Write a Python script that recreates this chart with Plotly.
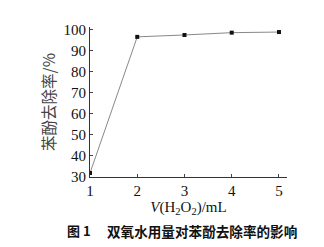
import plotly.graph_objects as go

volume_ml = [1, 2, 3, 4, 5]
removal_pct = [31.9, 96.7, 97.6, 98.7, 99.0]
y_ticks = [30, 40, 50, 60, 70, 80, 90, 100]
x_ticks = [1, 2, 3, 4, 5]
caption_label = "图 1"
caption_text = "双氧水用量对苯酚去除率的影响"

serif = "Liberation Serif, Times New Roman, serif"
cjk = "Noto Sans CJK SC, sans-serif"

fig = go.Figure()
fig.add_trace(go.Scatter(
    x=volume_ml, y=removal_pct, mode="lines+markers",
    line=dict(color="#888888", width=1),
    marker=dict(symbol="square", size=4, color="#111111"),
    showlegend=False,
))

fig.update_layout(
    width=324, height=247,
    margin=dict(l=90, r=37, t=27, b=70),
    paper_bgcolor="white", plot_bgcolor="white",
    font=dict(family=serif, color="#111111"),
    xaxis=dict(
        range=[1, 5.17], tickvals=x_ticks, ticks="inside", ticklen=3,
        showline=True, linecolor="#333333", linewidth=1, showgrid=False,
        zeroline=False, tickfont=dict(size=15, family=serif),
        title=dict(text="<i>V</i>(H<sub>2</sub>O<sub>2</sub>)/mL",
                   font=dict(size=15, family=serif), standoff=2),
    ),
    yaxis=dict(
        range=[30, 101.4], tickvals=y_ticks, ticks="inside", ticklen=3,
        showline=True, linecolor="#333333", linewidth=1, showgrid=False,
        zeroline=False, tickfont=dict(size=15, family=serif),
        title=dict(text="苯酚去除率/%", font=dict(size=15.5, family=cjk, color="#444444"),
                   standoff=4),
    ),
    annotations=[
        dict(text=caption_label, xref="paper", yref="paper", x=-0.127, y=-0.36,
             xanchor="left", yanchor="middle", showarrow=False,
             font=dict(size=13, family=cjk, color="#111111", weight="bold")),
        dict(text=caption_text, xref="paper", yref="paper", x=0.076, y=-0.36,
             xanchor="left", yanchor="middle", showarrow=False,
             font=dict(size=13.6, family=cjk, color="#111111", weight="bold")),
    ],
)

fig.write_html("out.html")
